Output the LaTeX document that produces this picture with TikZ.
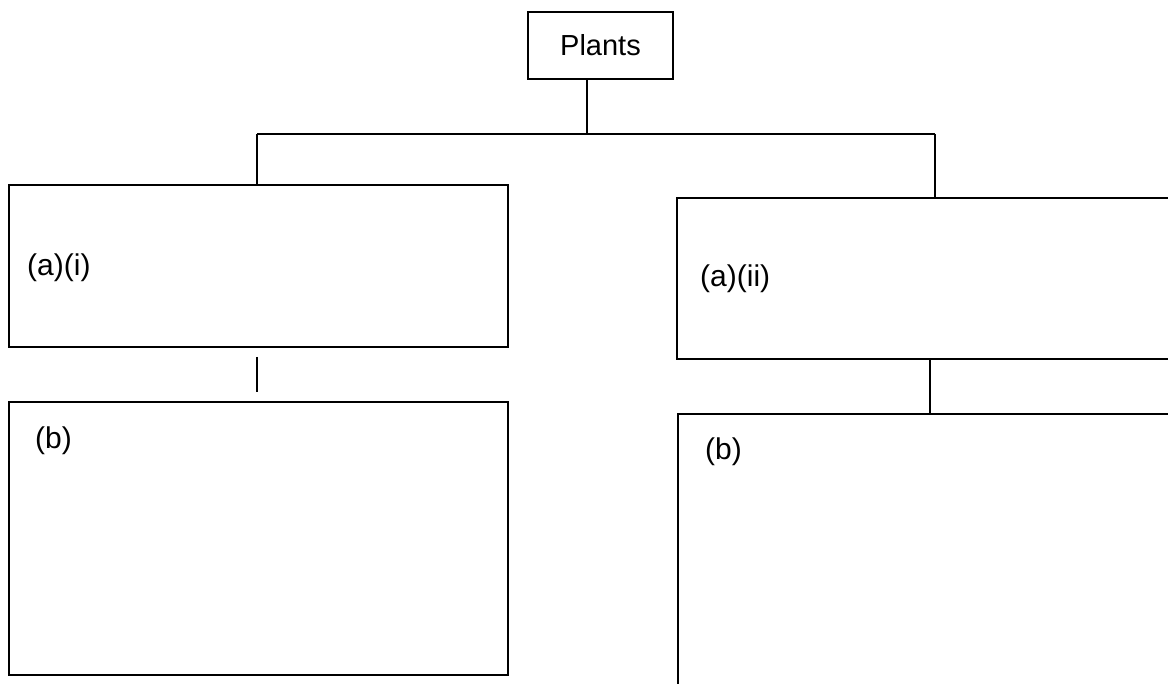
\documentclass[tikz,border=0pt]{standalone}
\usepackage{fontspec}
\setmainfont{Liberation Sans}
\begin{document}
\begin{tikzpicture}[x=1pt,y=-1pt,
  box/.style={draw, line width=2.8pt, rectangle, inner sep=0pt, outer sep=0pt, anchor=north west},
  lbl/.style={font=\fontsize{30}{34}\selectfont, inner sep=0pt, anchor=west},
  conn/.style={line width=2.4pt}]
\useasboundingbox (0,0) rectangle (1168,684);
\clip (0,0) rectangle (1168,684);
\fill[white] (0,0) rectangle (1168,684);
% boxes
\node[box, minimum width=145pt, minimum height=67pt] (plants) at (528,12) {};
\node[font=\fontsize{29}{34}\selectfont, inner sep=0pt] (plantstxt) at (plants.center) {Plants};
\node[box, minimum width=499pt, minimum height=162pt] (ai) at (9,185) {};
\node[box, minimum width=520pt, minimum height=161pt] (aii) at (677,198) {};
\node[box, minimum width=499pt, minimum height=273pt] (bi) at (9,402) {};
\node[box, minimum width=520pt, minimum height=300pt] (bii) at (678,414) {};
% labels
\node[lbl] (tai) at (27,268) {(a)(i)};
\node[lbl] (taii) at (700,279) {(a)(ii)};
\node[lbl] (tbi) at (35,441) {(b)};
\node[lbl] (tbii) at (705,452) {(b)};
% connectors
\coordinate (hub) at (587,134);
\coordinate (hl) at (257,134);
\coordinate (hr) at (935,134);
\coordinate (vr) at (930,0);
\draw[conn] (plants.south -| hub) -- (hub);
\draw[conn] (hl) -- (hr);
\draw[conn] (hl) -- (hl |- ai.north);
\draw[conn] (hr) -- (hr |- aii.north);
\draw[conn, shorten <=10pt, shorten >=10pt] (ai.south -| hl) -- (bi.north -| hl);
\draw[conn] (aii.south -| vr) -- (bii.north -| vr);
\end{tikzpicture}
\end{document}
